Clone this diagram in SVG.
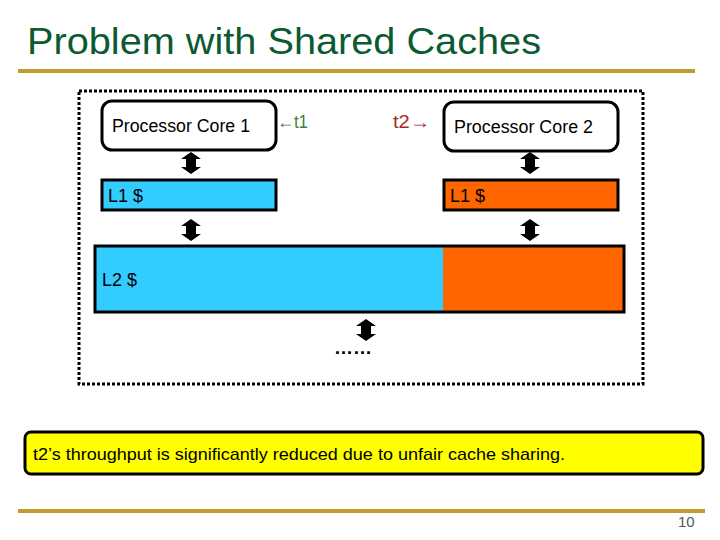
<svg xmlns="http://www.w3.org/2000/svg" width="720" height="540" viewBox="0 0 720 540">
<style>
text{font-family:"Liberation Sans",Arial,sans-serif;fill:#000}
.lbl{font-size:18px}
.box{stroke:#000;stroke-width:3}
.gold{stroke:#BF9B30;stroke-width:4}
</style>
<defs>
<path id="dbl" d="M0,0 L10,7 L5,7 L5,15 L10,15 L0,22 L-10,15 L-5,15 L-5,7 L-10,7 Z" fill="#000"/>
</defs>
<rect width="720" height="540" fill="#fff"/>
<text x="27" y="54" font-size="36" style="fill:#0B5A32" textLength="514" lengthAdjust="spacingAndGlyphs">Problem with Shared Caches</text>
<line x1="18" y1="71" x2="695" y2="71" class="gold"/>
<rect x="79" y="91" width="564" height="293" fill="none" stroke="#000" stroke-width="3" stroke-dasharray="3,2"/>
<g id="core1">
<rect x="102" y="101" width="174" height="49" rx="10" fill="#fff" class="box"/>
<text x="112" y="132" class="lbl" textLength="138" lengthAdjust="spacingAndGlyphs">Processor Core 1</text>
</g>
<g id="core2">
<rect x="444" y="102" width="174" height="49" rx="10" fill="#fff" class="box"/>
<text x="454" y="133" class="lbl" textLength="139" lengthAdjust="spacingAndGlyphs">Processor Core 2</text>
</g>
<g id="t1"><text x="277" y="128" class="lbl" style="fill:#3F7F3F" textLength="31" lengthAdjust="spacingAndGlyphs">←t1</text></g>
<g id="t2"><text x="393" y="128" class="lbl" style="fill:#A52A2A" textLength="37" lengthAdjust="spacingAndGlyphs">t2→</text></g>
<g id="l1a">
<rect x="102" y="180" width="174" height="30" fill="#33CCFF" class="box"/>
<text x="108" y="202" class="lbl">L1 $</text>
</g>
<g id="l1b">
<rect x="444" y="180" width="174" height="30" fill="#FF6600" class="box"/>
<text x="450" y="202" class="lbl">L1 $</text>
</g>
<g id="l2">
<rect x="95" y="246" width="529" height="66" fill="#FF6600"/>
<rect x="95" y="246" width="348" height="66" fill="#33CCFF"/>
<rect x="95" y="246" width="529" height="66" fill="none" class="box"/>
<text x="102" y="286" class="lbl">L2 $</text>
</g>
<g id="connectors">
<use href="#dbl" x="191" y="152"/>
<use href="#dbl" x="530" y="152"/>
<use href="#dbl" x="191" y="219"/>
<use href="#dbl" x="530" y="219"/>
<use href="#dbl" x="366" y="319"/>
</g>
<g id="more"><text x="334" y="354" font-size="18" font-weight="bold" textLength="38" lengthAdjust="spacingAndGlyphs">……</text></g>
<g id="note">
<rect x="25" y="432" width="678" height="42" rx="6" fill="#FFFF00" class="box"/>
<text x="33" y="460" font-size="17" textLength="532" lengthAdjust="spacingAndGlyphs">t2’s throughput is significantly reduced due to unfair cache sharing.</text>
</g>
<line x1="18" y1="511" x2="705" y2="511" class="gold"/>
<text x="678" y="527" font-size="15" style="fill:#555">10</text>
</svg>
